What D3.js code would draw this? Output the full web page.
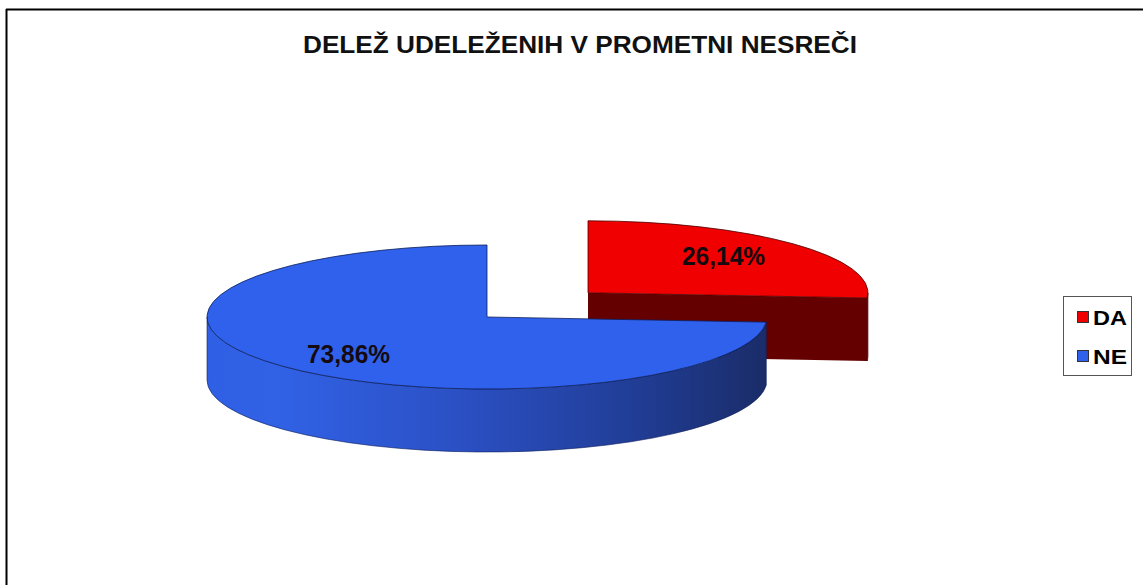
<!DOCTYPE html>
<html>
<head>
<meta charset="utf-8">
<script src="https://cdn.jsdelivr.net/npm/d3@7"></script>
<style>
  html, body { margin: 0; padding: 0; background: #fff; }
  svg { display: block; }
  text { font-family: "Liberation Sans", Arial, sans-serif; font-weight: bold; }
</style>
</head>
<body>
<svg id="chart" width="1143" height="585"></svg>
<script>
// Data
const title = "DELEŽ UDELEŽENIH V PROMETNI NESREČI";
const categories = ["DA", "NE"];
const shares = [26.14, 73.86];
const labels = ["26,14%", "73,86%"];

// Colours per category: top face, dark side
const topColors = ["#f00000", "#2f61ec"];
const sideColors = ["#640000", "#24439f"];

const W = 1143, H = 585;
const svg = d3.select("#chart");

// frame of the chart area (top and left edges)
svg.append("line").attr("x1", 6).attr("x2", W).attr("y1", 9.5).attr("y2", 9.5)
  .attr("stroke", "#000").attr("stroke-width", 2);
svg.append("line").attr("x1", 6.5).attr("x2", 6.5).attr("y1", 9).attr("y2", H)
  .attr("stroke", "#000").attr("stroke-width", 2);

// title
svg.append("text").attr("x", 580).attr("y", 53).attr("text-anchor", "middle")
  .attr("font-size", 24).attr("textLength", 554).attr("lengthAdjust", "spacingAndGlyphs")
  .attr("fill", "#111").text(title);

// 3D pie geometry
const cx = 487, cy = 317;      // pie centre
const rx = 280, ry = 72;       // ellipse radii of the tilted disc
const depth = 63;              // thickness of the disc
const explode = 138;           // outward shift of the first slice

const pie = d3.pie().sort(null).value(d => d);
const arcs = pie(shares);

// point on ellipse for angle a (clockwise from 12 o'clock)
const pt = (c, a, dz = 0) => [c[0] + rx * Math.sin(a), c[1] - ry * Math.cos(a) + dz];

function centreOf(i, d) {
  if (i !== 0) return [cx, cy];
  const mid = (d.startAngle + d.endAngle) / 2;
  return [cx + explode * Math.sin(mid), cy - explode * Math.cos(mid) * ry / rx];
}

function topPath(c, a0, a1) {
  const p0 = pt(c, a0), p1 = pt(c, a1);
  const large = (a1 - a0) > Math.PI ? 1 : 0;
  return `M${c[0]},${c[1]}L${p0[0]},${p0[1]}A${rx},${ry} 0 ${large} 1 ${p1[0]},${p1[1]}Z`;
}

function wallPath(c, a0, a1) {
  const p0 = pt(c, a0), p1 = pt(c, a1);
  const q0 = pt(c, a0, depth), q1 = pt(c, a1, depth);
  const large = (a1 - a0) > Math.PI ? 1 : 0;
  return `M${p0[0]},${p0[1]}A${rx},${ry} 0 ${large} 1 ${p1[0]},${p1[1]}` +
         `L${q1[0]},${q1[1]}A${rx},${ry} 0 ${large} 0 ${q0[0]},${q0[1]}Z`;
}

function cutPath(c, a) {
  const p = pt(c, a);
  return `M${c[0]},${c[1]}L${p[0]},${p[1]}L${p[0]},${p[1] + depth}L${c[0]},${c[1] + depth}Z`;
}

// shading of the blue outer wall, light at left, dark at right
const defs = svg.append("defs");
const grad = defs.append("linearGradient").attr("id", "wallNE")
  .attr("gradientUnits", "userSpaceOnUse")
  .attr("x1", cx - rx).attr("x2", cx + rx).attr("y1", 0).attr("y2", 0);
[[0, "#2f5fe4"], [0.12, "#3162e6"], [0.45, "#2b50c4"], [0.75, "#213e98"], [1, "#1a2c68"]]
  .forEach(([o, c]) => grad.append("stop").attr("offset", o).attr("stop-color", c));

const g = svg.append("g");

arcs.forEach((d, i) => {
  const c = centreOf(i, d);
  const a0 = d.startAngle, a1 = d.endAngle;
  const sideFill = i === 1 ? "url(#wallNE)" : sideColors[i];
  const stroke = i === 0 ? "#4a0000" : "#0d1f5c";
  // cut face at the end angle faces the viewer when it lies in the front half
  if (a1 > Math.PI / 2 && a1 < 3 * Math.PI / 2) {
    g.append("path").attr("d", cutPath(c, a1)).attr("fill", sideColors[i]);
  }
  if (a0 > Math.PI / 2 && a0 < 3 * Math.PI / 2 && i !== 1) {
    g.append("path").attr("d", cutPath(c, a0)).attr("fill", sideColors[i]);
  }
  // visible outer wall: front half only
  const w0 = Math.max(a0, Math.PI / 2), w1 = Math.min(a1, 3 * Math.PI / 2);
  if (w1 > w0) {
    g.append("path").attr("d", wallPath(c, w0, w1)).attr("fill", sideFill)
      .attr("stroke", stroke).attr("stroke-width", 0.6);
  }
  g.append("path").attr("d", topPath(c, a0, a1)).attr("fill", topColors[i])
    .attr("stroke", stroke).attr("stroke-width", 0.8).attr("stroke-linejoin", "round");
});

// value labels
const labelPos = [[723.5, 265], [348.5, 363]];
labels.forEach((t, i) => {
  svg.append("text").attr("x", labelPos[i][0]).attr("y", labelPos[i][1])
    .attr("text-anchor", "middle").attr("font-size", 25)
    .attr("textLength", 83).attr("lengthAdjust", "spacingAndGlyphs")
    .attr("fill", "#140a10").text(t);
});

// legend
const lg = svg.append("g");
lg.append("rect").attr("x", 1063.5).attr("y", 296.5).attr("width", 68).attr("height", 79)
  .attr("fill", "#fff").attr("stroke", "#555").attr("stroke-width", 1);
categories.forEach((cat, i) => {
  const y = 311 + i * 39;
  lg.append("rect").attr("x", 1077.5).attr("y", y + 0.5).attr("width", 11).attr("height", 11)
    .attr("fill", topColors[i]).attr("stroke", "#333").attr("stroke-width", 1);
  lg.append("text").attr("x", 1093).attr("y", y + 14).attr("font-size", 21)
    .attr("textLength", 34).attr("lengthAdjust", "spacingAndGlyphs")
    .attr("fill", "#000").text(cat);
});
</script>
</body>
</html>
